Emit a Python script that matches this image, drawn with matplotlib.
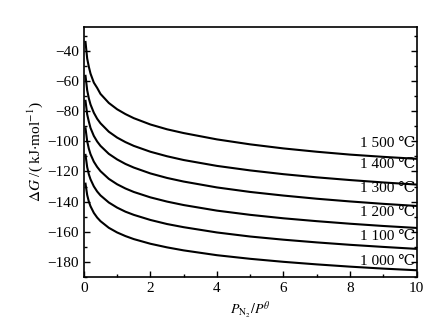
import matplotlib
matplotlib.use("Agg")
import matplotlib.pyplot as plt
from matplotlib.ticker import MultipleLocator


# ============================================================
# DATA
# ============================================================

p_ratio = [0.05, 0.1, 0.15, 0.2, 0.3, 0.4, 0.5, 0.75, 1, 1.25, 1.5, 2,
           2.5, 3, 4, 5, 6, 7, 8, 9, 10]

dg_1500 = [-34, -45, -50.5, -55, -61, -64.5, -68.5, -74.5, -78.7, -81.9,
           -84.6, -88.8, -92, -94.5, -98.7, -102, -104.7, -106.9, -108.8,
           -110.3, -111.6]
dg_1400 = [-56.5, -66, -71.5, -75.5, -81, -85, -88, -93.6, -97.5, -100.5,
           -103, -106.9, -109.9, -112.4, -116.3, -119.3, -121.8, -123.9,
           -125.7, -127.3, -128.7]
dg_1300 = [-73.1, -82.1, -86.9, -91.1, -96.4, -100.1, -103, -108.3, -112,
           -115, -117.4, -121.3, -124.3, -126.7, -130.6, -133.6, -136,
           -138.1, -139.9, -141.5, -142.9]
dg_1200 = [-91.3, -99.9, -104.9, -108.5, -113.5, -117, -119.8, -124.9,
           -128.5, -131.3, -133.6, -137.2, -140, -142.3, -146, -148.8,
           -151.1, -153, -154.7, -156.2, -157.5]
dg_1100 = [-109, -117.1, -121.9, -125.2, -129.9, -133.3, -135.9, -140.6,
           -144, -146.7, -148.8, -152.2, -154.9, -157, -160.5, -163.2,
           -165.3, -167.1, -168.7, -170.1, -171.4]
dg_1000 = [-128.1, -135.6, -140, -143.1, -147.5, -150.6, -153, -157.4,
           -160.5, -162.9, -164.9, -168, -170.4, -172.4, -175.6, -178,
           -180, -181.7, -183.2, -184.5, -185.6]

curves = [dg_1000, dg_1100, dg_1200, dg_1300, dg_1400, dg_1500]

temp_labels = ["1 000 \u2103", "1 100 \u2103", "1 200 \u2103",
               "1 300 \u2103", "1 400 \u2103", "1 500 \u2103"]
label_y = [-179.5, -163.3, -147.4, -131.5, -115.7, -101.3]


# ============================================================
# STYLE
# ============================================================

plt.rcParams["font.family"] = ["Liberation Serif", "DejaVu Serif"]
plt.rcParams["mathtext.fontset"] = "stix"
plt.rcParams["font.size"] = 10


# ============================================================
# PLOT
# ============================================================

fig = plt.figure(figsize=(4.46, 3.32), dpi=100)
ax = fig.add_axes([0.188, 0.166, 0.746, 0.753])

for dg in curves:
    ax.plot(p_ratio, dg, color="black", linewidth=1.5)

for text, y in zip(temp_labels, label_y):
    ax.text(9.97, y, text, ha="right", va="center", fontsize=11)

ax.set_xlim(0, 10)
ax.set_ylim(-190, -24)

ax.xaxis.set_major_locator(MultipleLocator(2))
ax.xaxis.set_minor_locator(MultipleLocator(1))
ax.yaxis.set_major_locator(MultipleLocator(20))
ax.yaxis.set_minor_locator(MultipleLocator(10))

ax.tick_params(which="both", direction="in", top=False, right=True,
               labelsize=11)
ax.tick_params(which="major", length=4, width=1)
ax.tick_params(which="minor", length=2.5, width=1)

for spine in ax.spines.values():
    spine.set_linewidth(1.2)

ax.set_xlabel(r"$P_{\mathrm{N_2}}/P^{\theta}$", fontsize=10, labelpad=3)
ax.set_ylabel(r"$\Delta G$ /( kJ$\cdot$mol$^{-1}$)", fontsize=11,
              labelpad=2)

fig.savefig("out.png", dpi=100)
